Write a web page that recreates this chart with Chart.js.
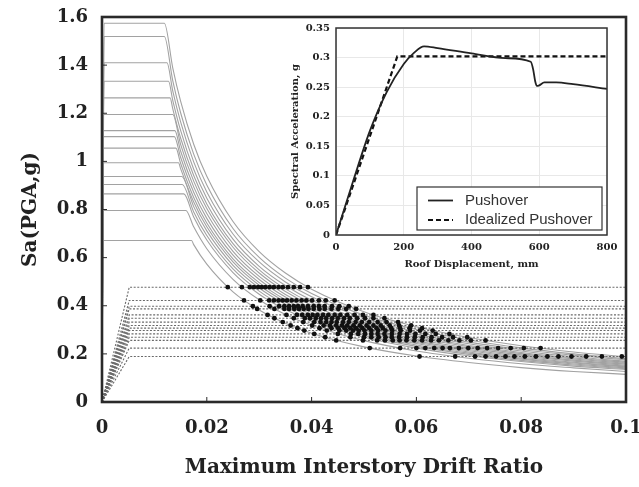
<!DOCTYPE html>
<html>
<head>
<meta charset="utf-8">
<script src="https://cdn.jsdelivr.net/npm/chart.js@4.4.1/dist/chart.umd.min.js"></script>
<style>
  html, body { margin: 0; padding: 0; background: #fff; }
  #wrap { position: relative; width: 639px; height: 487px; overflow: hidden; }
  #main { position: absolute; left: 0; top: 0; }
  #inset { position: absolute; left: 280px; top: 14px; }
</style>
</head>
<body>
<div id="wrap">
  <canvas id="main" width="639" height="487" style="width:639px;height:487px"></canvas>
  <canvas id="inset" width="345" height="266" style="width:345px;height:266px"></canvas>
</div>
<script>
// ---- main chart: IDA curves ----
var driftTicks = [0, 0.02, 0.04, 0.06, 0.08, 0.1];
var saTicks = [0, 0.2, 0.4, 0.6, 0.8, 1, 1.2, 1.4, 1.6];

// solid curves: plateau level, start of plateau, end of plateau
var plateauSa = [1.574, 1.519, 1.410, 1.333, 1.264, 1.195, 1.128, 1.103, 1.055, 0.994, 0.937, 0.904, 0.865, 0.796, 0.671];
var riseDrift = [0.0004, 0.0004, 0.0004, 0.0004, 0.0003, 0.0003, 0.0003, 0.0003, 0.0003, 0.0003, 0.0003, 0.0002, 0.0002, 0.0002, 0.0002];
var kneeDrift = [0.0119, 0.0119, 0.0124, 0.0127, 0.0130, 0.0135, 0.0139, 0.0138, 0.0141, 0.0146, 0.0152, 0.0153, 0.0156, 0.0160, 0.0171];

// decaying branch of every solid curve
var decayDrift = [0.0135, 0.015, 0.0175, 0.02, 0.025, 0.03, 0.035, 0.04, 0.05, 0.06, 0.07, 0.08, 0.09, 0.1];
var decaySa = [
  [1.389, 1.250, 1.071, 0.938, 0.750, 0.625, 0.536, 0.469, 0.375, 0.313, 0.268, 0.234, 0.208, 0.188],
  [1.336, 1.202, 1.030, 0.902, 0.721, 0.601, 0.515, 0.451, 0.361, 0.301, 0.258, 0.225, 0.200, 0.180],
  [1.293, 1.164, 0.998, 0.873, 0.698, 0.582, 0.499, 0.437, 0.349, 0.291, 0.249, 0.218, 0.194, 0.175],
  [1.254, 1.129, 0.967, 0.847, 0.677, 0.564, 0.484, 0.423, 0.339, 0.282, 0.242, 0.212, 0.188, 0.169],
  [1.219, 1.097, 0.941, 0.823, 0.658, 0.549, 0.470, 0.412, 0.329, 0.274, 0.235, 0.206, 0.183, 0.165],
  [null, 1.071, 0.918, 0.804, 0.643, 0.536, 0.459, 0.402, 0.321, 0.268, 0.230, 0.201, 0.179, 0.161],
  [null, 1.043, 0.894, 0.783, 0.626, 0.522, 0.447, 0.391, 0.313, 0.261, 0.224, 0.196, 0.174, 0.157],
  [null, 1.017, 0.872, 0.763, 0.610, 0.509, 0.436, 0.382, 0.305, 0.254, 0.218, 0.191, 0.170, 0.153],
  [null, 0.992, 0.850, 0.744, 0.595, 0.496, 0.425, 0.372, 0.298, 0.248, 0.213, 0.186, 0.165, 0.149],
  [null, 0.970, 0.831, 0.728, 0.582, 0.485, 0.416, 0.364, 0.291, 0.243, 0.208, 0.182, 0.162, 0.146],
  [null, null, 0.812, 0.711, 0.568, 0.474, 0.406, 0.355, 0.284, 0.237, 0.203, 0.178, 0.158, 0.142],
  [null, null, 0.790, 0.692, 0.553, 0.461, 0.395, 0.346, 0.277, 0.231, 0.198, 0.173, 0.154, 0.138],
  [null, null, 0.769, 0.673, 0.538, 0.448, 0.384, 0.336, 0.269, 0.224, 0.192, 0.168, 0.149, 0.135],
  [null, null, 0.728, 0.637, 0.510, 0.425, 0.364, 0.319, 0.255, 0.212, 0.182, 0.159, 0.142, 0.127],
  [null, null, 0.654, 0.573, 0.458, 0.382, 0.327, 0.286, 0.229, 0.191, 0.164, 0.143, 0.127, 0.115]
];

// dotted bilinear lines
var bilinSa = [0.477, 0.422, 0.398, 0.387, 0.362, 0.348, 0.332, 0.318, 0.307, 0.297, 0.283, 0.269, 0.256, 0.224, 0.189];
var bilinYield = 0.0052;

// black dots on each dotted line
var dotDrift = [
  [0.0240, 0.0267, 0.0282, 0.0290, 0.0298, 0.0305, 0.0312, 0.0320, 0.0328, 0.0337, 0.0345, 0.0355, 0.0366, 0.0378, 0.0393],
  [0.0271, 0.0302, 0.0319, 0.0328, 0.0337, 0.0345, 0.0353, 0.0362, 0.0371, 0.0381, 0.0390, 0.0401, 0.0414, 0.0427, 0.0444],
  [0.0288, 0.0320, 0.0338, 0.0348, 0.0357, 0.0366, 0.0374, 0.0383, 0.0393, 0.0404, 0.0414, 0.0425, 0.0439, 0.0453, 0.0471],
  [0.0296, 0.0329, 0.0348, 0.0357, 0.0367, 0.0376, 0.0385, 0.0394, 0.0404, 0.0415, 0.0425, 0.0438, 0.0451, 0.0466, 0.0485],
  [0.0316, 0.0352, 0.0372, 0.0382, 0.0393, 0.0402, 0.0411, 0.0422, 0.0432, 0.0444, 0.0455, 0.0468, 0.0482, 0.0498, 0.0518],
  [0.0329, 0.0366, 0.0387, 0.0397, 0.0408, 0.0418, 0.0428, 0.0439, 0.0450, 0.0462, 0.0473, 0.0487, 0.0502, 0.0518, 0.0539],
  [0.0345, 0.0384, 0.0405, 0.0417, 0.0428, 0.0438, 0.0448, 0.0460, 0.0471, 0.0484, 0.0496, 0.0510, 0.0526, 0.0543, 0.0565],
  [0.0360, 0.0401, 0.0423, 0.0435, 0.0447, 0.0458, 0.0468, 0.0480, 0.0492, 0.0505, 0.0518, 0.0532, 0.0549, 0.0567, 0.0590],
  [0.0373, 0.0415, 0.0438, 0.0451, 0.0463, 0.0474, 0.0485, 0.0497, 0.0510, 0.0524, 0.0536, 0.0552, 0.0569, 0.0587, 0.0611],
  [0.0386, 0.0429, 0.0453, 0.0466, 0.0479, 0.0490, 0.0501, 0.0514, 0.0527, 0.0541, 0.0554, 0.0570, 0.0588, 0.0607, 0.0631],
  [0.0405, 0.0450, 0.0475, 0.0489, 0.0502, 0.0514, 0.0526, 0.0539, 0.0553, 0.0568, 0.0582, 0.0598, 0.0617, 0.0637, 0.0663],
  [0.0426, 0.0474, 0.0500, 0.0514, 0.0528, 0.0541, 0.0553, 0.0567, 0.0582, 0.0597, 0.0612, 0.0629, 0.0649, 0.0670, 0.0697],
  [0.0447, 0.0498, 0.0525, 0.0540, 0.0555, 0.0568, 0.0581, 0.0596, 0.0611, 0.0628, 0.0643, 0.0661, 0.0682, 0.0704, 0.0732],
  [0.0511, 0.0569, 0.0600, 0.0617, 0.0634, 0.0650, 0.0664, 0.0681, 0.0699, 0.0717, 0.0735, 0.0756, 0.0780, 0.0805, 0.0837],
  [0.0606, 0.0674, 0.0712, 0.0732, 0.0752, 0.0770, 0.0787, 0.0807, 0.0828, 0.0850, 0.0871, 0.0896, 0.0924, 0.0954, 0.0992]
];

// ---- inset: pushover curve ----
var roofTicks = [0, 200, 400, 600, 800];
var specTicks = [0, 0.05, 0.1, 0.15, 0.2, 0.25, 0.3, 0.35];
var pushDisp = [0, 50, 100, 150, 200, 230, 260, 300, 400, 500, 575, 582, 588, 593, 600, 615, 650, 700, 800];
var pushSa = [0, 0.09, 0.176, 0.242, 0.289, 0.308, 0.319, 0.316, 0.307, 0.299, 0.293, 0.28, 0.26, 0.252, 0.253, 0.258, 0.258, 0.255, 0.247];
var idealDisp = [0, 181, 800];
var idealSa = [0, 0.302, 0.302];

var serif = 'DejaVu Serif';
var ink = '#222';

// frame round the plot area, with short inward ticks
var framePlugin = {
  id: 'frame',
  afterDatasetsDraw: function(chart, args, opts) {
    var ctx = chart.ctx, a = chart.chartArea;
    ctx.save();
    ctx.strokeStyle = opts.color;
    ctx.lineWidth = opts.width;
    ctx.strokeRect(a.left, a.top, a.right - a.left, a.bottom - a.top);
    if (opts.tick) {
      ctx.lineWidth = 1;
      ctx.beginPath();
      chart.scales.x.ticks.forEach(function(t) {
        var px = chart.scales.x.getPixelForValue(t.value);
        ctx.moveTo(px, a.bottom);
        ctx.lineTo(px, a.bottom - opts.tick);
      });
      chart.scales.y.ticks.forEach(function(t) {
        var py = chart.scales.y.getPixelForValue(t.value);
        ctx.moveTo(a.left, py);
        ctx.lineTo(a.left + opts.tick, py);
      });
      ctx.stroke();
    }
    ctx.restore();
  }
};

var curveSets = plateauSa.map(function(sa, i) {
  var pts = [{x: 0, y: 0}, {x: riseDrift[i], y: sa}, {x: kneeDrift[i], y: sa}];
  decayDrift.forEach(function(d, j) {
    if (decaySa[i][j] != null) pts.push({x: d, y: decaySa[i][j]});
  });
  return {
    data: pts, showLine: true, borderColor: '#a2a2a2', borderWidth: 1.1,
    pointRadius: 0, cubicInterpolationMode: 'monotone', order: 3
  };
});

var bilinSets = bilinSa.map(function(sa) {
  return {
    data: [{x: 0, y: 0}, {x: bilinYield, y: sa}, {x: 0.1, y: sa}],
    showLine: true, borderColor: '#6a6a6a', borderWidth: 1.1, borderDash: [2, 1.6],
    pointRadius: 0, order: 2
  };
});

var dotSets = bilinSa.map(function(sa, i) {
  return {
    data: dotDrift[i].map(function(d) { return {x: d, y: sa}; }),
    showLine: false, pointRadius: 2.4, pointBackgroundColor: '#111',
    pointBorderWidth: 0, order: 1
  };
});

new Chart(document.getElementById('main'), {
  type: 'scatter',
  data: {datasets: dotSets.concat(bilinSets, curveSets)},
  plugins: [framePlugin],
  options: {
    responsive: false,
    animation: false,
    layout: {padding: {left: 0, right: 13, top: 17, bottom: 0}},
    plugins: {
      legend: {display: false},
      tooltip: {enabled: false},
      frame: {color: '#2a2a2a', width: 2.6, tick: 5}
    },
    scales: {
      x: {
        type: 'linear', min: 0, max: 0.1,
        grid: {display: false, drawTicks: false},
        border: {display: false},
        afterBuildTicks: function(s) { s.ticks = driftTicks.map(function(v) { return {value: v}; }); },
        afterFit: function(s) { s.height = 85; s.paddingLeft = 0; s.paddingRight = 0; },
        ticks: {
          padding: 16, color: ink, maxRotation: 0, autoSkip: false,
          font: {family: serif, weight: 'bold', size: 18},
          callback: function(v) { return String(+v.toFixed(3)); }
        },
        title: {
          display: true, text: 'Maximum Interstory Drift Ratio', color: ink,
          font: {family: serif, weight: 'bold', size: 20},
          padding: {top: 0, bottom: 7}
        }
      },
      y: {
        type: 'linear', min: 0, max: 1.6,
        grid: {display: false, drawTicks: false},
        border: {display: false},
        afterBuildTicks: function(s) { s.ticks = saTicks.map(function(v) { return {value: v}; }); },
        afterFit: function(s) { s.width = 102; s.paddingTop = 0; s.paddingBottom = 0; },
        ticks: {
          padding: 14, color: ink,
          font: {family: serif, weight: 'bold', size: 18},
          callback: function(v) { return String(+v.toFixed(2)); }
        },
        title: {
          display: true, text: 'Sa(PGA,g)', color: ink,
          font: {family: serif, weight: 'bold', size: 20},
          padding: {top: 19, bottom: 0}
        }
      }
    }
  }
});

// legend box inside the inset
var insetLegend = {
  id: 'insetLegend',
  afterDraw: function(chart) {
    var ctx = chart.ctx, a = chart.chartArea;
    var w = 185, h = 43, x0 = a.right - 5 - w, y0 = a.bottom - 5 - h;
    ctx.save();
    ctx.fillStyle = '#fff';
    ctx.fillRect(x0, y0, w, h);
    ctx.strokeStyle = '#333';
    ctx.lineWidth = 1.2;
    ctx.strokeRect(x0, y0, w, h);
    ctx.font = '15px "Liberation Sans"';
    ctx.textBaseline = 'middle';
    ctx.fillStyle = '#333';
    chart.data.datasets.forEach(function(ds, i) {
      var y = y0 + 13.5 + i * 19.5;
      ctx.beginPath();
      ctx.setLineDash(ds.borderDash || []);
      ctx.lineWidth = ds.borderWidth;
      ctx.strokeStyle = ds.borderColor;
      ctx.moveTo(x0 + 11, y);
      ctx.lineTo(x0 + 36, y);
      ctx.stroke();
      ctx.setLineDash([]);
      ctx.fillText(ds.label, x0 + 48, y);
    });
    ctx.restore();
  }
};

new Chart(document.getElementById('inset'), {
  type: 'scatter',
  data: {
    datasets: [
      {
        label: 'Pushover',
        data: pushDisp.map(function(d, i) { return {x: d, y: pushSa[i]}; }),
        showLine: true, borderColor: '#222', borderWidth: 1.8,
        pointRadius: 0, cubicInterpolationMode: 'monotone'
      },
      {
        label: 'Idealized Pushover',
        data: idealDisp.map(function(d, i) { return {x: d, y: idealSa[i]}; }),
        showLine: true, borderColor: '#111', borderWidth: 2.2, borderDash: [5, 3],
        pointRadius: 0
      }
    ]
  },
  plugins: [framePlugin, insetLegend],
  options: {
    responsive: false,
    animation: false,
    layout: {padding: {left: 0, right: 18, top: 14, bottom: 0}},
    plugins: {
      legend: {display: false},
      tooltip: {enabled: false},
      frame: {color: '#333', width: 1.5, tick: 0}
    },
    scales: {
      x: {
        type: 'linear', min: 0, max: 800,
        grid: {color: '#e8e8e8', drawTicks: false},
        border: {display: false},
        afterBuildTicks: function(s) { s.ticks = roofTicks.map(function(v) { return {value: v}; }); },
        afterFit: function(s) { s.height = 45; s.paddingLeft = 0; s.paddingRight = 0; },
        ticks: {
          padding: 6, color: ink, maxRotation: 0, autoSkip: false,
          font: {family: serif, weight: 'bold', size: 10}
        },
        title: {
          display: true, text: 'Roof Displacement, mm', color: ink,
          font: {family: serif, weight: 'bold', size: 10},
          padding: {top: 0, bottom: 10}
        }
      },
      y: {
        type: 'linear', min: 0, max: 0.35,
        grid: {color: '#e8e8e8', drawTicks: false},
        border: {display: false},
        afterBuildTicks: function(s) { s.ticks = specTicks.map(function(v) { return {value: v}; }); },
        afterFit: function(s) { s.width = 56; s.paddingTop = 0; s.paddingBottom = 0; },
        ticks: {
          padding: 6, color: ink,
          font: {family: serif, weight: 'bold', size: 10},
          callback: function(v) { return String(+v.toFixed(2)); }
        },
        title: {
          display: true, text: 'Spectral Acceleration, g', color: ink,
          font: {family: serif, weight: 'bold', size: 10},
          padding: {top: 9, bottom: 0}
        }
      }
    }
  }
});
</script>
</body>
</html>
